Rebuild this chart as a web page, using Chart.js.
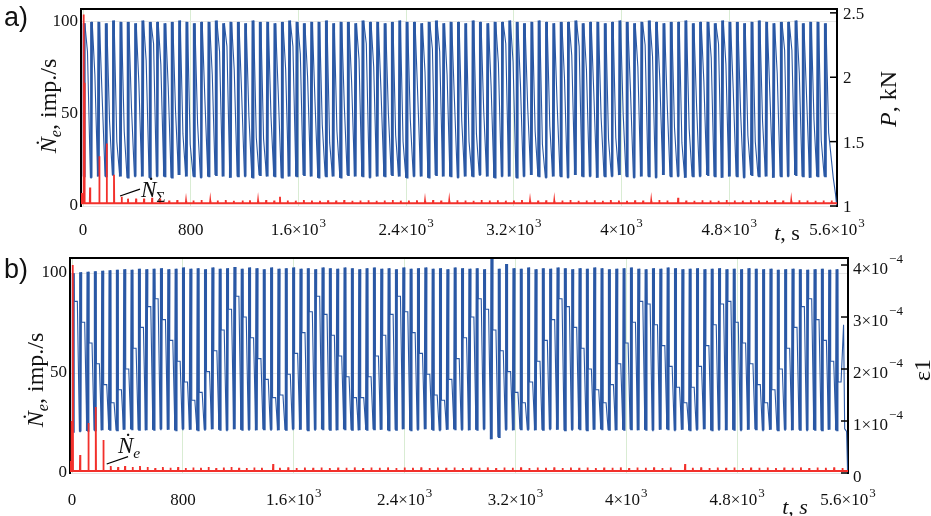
<!DOCTYPE html>
<html>
<head>
<meta charset="utf-8">
<script src="https://cdn.jsdelivr.net/npm/chart.js@4.4.1/dist/chart.umd.min.js"></script>
<style>
html, body { margin: 0; padding: 0; background: #fff; }
#wrap { position: relative; width: 931px; height: 516px; overflow: hidden; font-family: "Liberation Serif", "Times New Roman", serif; color: #111; }
canvas { position: absolute; left: 0; }
#cA { top: 0; }
#cB { top: 250px; }
.lbl { position: absolute; white-space: nowrap; line-height: 1; }
.panel { font-family: "Liberation Sans", Arial, sans-serif; font-size: 27px; }
.ttl { font-size: 24px; transform: translate(-50%, -50%) rotate(-90deg); }
.xt { font-size: 22px; transform: translate(-50%, -50%); }
.ann { font-size: 23px; }
sub { font-size: 0.68em; vertical-align: -0.3em; }
</style>
</head>
<body>
<div id="wrap">
  <canvas id="cA" width="931" height="250"></canvas>
  <canvas id="cB" width="931" height="266"></canvas>

  <div class="lbl panel" style="left:4px; top:4px;">a)</div>
  <div class="lbl panel" style="left:4px; top:256px;">b)</div>

  <div class="lbl ttl" style="left:50px; top:106px;"><i>Ṅ</i><sub><i>e</i></sub>, imp./s</div>
  <div class="lbl ttl" style="left:37px; top:380px;"><i>Ṅ</i><sub><i>e</i></sub>, imp./s</div>
  <div class="lbl ttl" style="left:888px; top:99px;"><i>P</i>, kN</div>
  <div class="lbl ttl" style="left:922px; top:370px;">ε1</div>

  <div class="lbl xt" style="left:787px; top:233px;"><i>t</i>, s</div>
  <div class="lbl xt" style="left:795px; top:507px;"><i>t, s</i></div>

  <div class="lbl ann" style="left:141px; top:178px;"><i>Ṅ</i><sub>Σ</sub></div>
  <div class="lbl ann" style="left:118px; top:434px;"><i>Ṅ</i><sub><i>e</i></sub></div>
</div>

<script>
// axes
const X_TICKS = [0, 800, 1600, 2400, 3200, 4000, 4800, 5600];
const X_TICK_BASE = ['0', '800', '1.6×10', '2.4×10', '3.2×10', '4×10', '4.8×10', '5.6×10'];
const X_TICK_SUP = ['', '', '3', '3', '3', '3', '3', '3'];
const NE_TICKS = [0, 50, 100];
const P_TICKS = [1, 1.5, 2, 2.5];
const P_TICK_BASE = ['1', '1.5', '2', '2.5'];
const P_TICK_SUP = ['', '', '', ''];
const EPS_TICKS = [0, 1, 2, 3, 4];          // in 10^-4
const EPS_TICK_BASE = ['0', '1×10', '2×10', '3×10', '4×10'];
const EPS_TICK_SUP = ['', '−4', '−4', '−4', '−4'];

// panel a) load P, kN - one entry per loading cycle
const cycleTA = [0,55,109,164,218,273,327,382,436,491,545,600,654,709,763,818,872,927,981,1036,
  1090,1145,1199,1254,1308,1363,1417,1472,1526,1581,1635,1690,1744,1799,1853,1908,1962,2017,2071,2126,
  2180,2235,2289,2344,2398,2453,2507,2562,2616,2671,2725,2780,2834,2889,2943,2998,3052,3107,3161,3216,
  3270,3325,3379,3434,3488,3543,3597,3652,3706,3761,3815,3870,3924,3979,4033,4088,4142,4197,4251,4306,
  4360,4415,4469,4524,4578,4633,4687,4742,4796,4851,4905,4960,5014,5069,5123,5178,5232,5287,5341,5396,
  5450,5505];
const peakA = [2.42,2.43,2.43,2.42,2.44,2.43,2.43,2.42,2.44,2.43,
  2.43,2.42,2.43,2.44,2.43,2.42,2.43,2.43,2.44,2.42,
  2.43,2.43,2.42,2.44,2.43,2.43,2.42,2.43,2.44,2.43,
  2.42,2.43,2.43,2.44,2.42,2.43,2.43,2.42,2.44,2.43,
  2.43,2.42,2.43,2.44,2.43,2.43,2.42,2.43,2.44,2.42,
  2.43,2.43,2.42,2.44,2.43,2.42,2.43,2.43,2.44,2.43,
  2.42,2.43,2.44,2.43,2.42,2.43,2.43,2.44,2.42,2.43,
  2.43,2.42,2.43,2.44,2.43,2.42,2.43,2.44,2.43,2.42,
  2.43,2.43,2.44,2.42,2.43,2.43,2.42,2.44,2.43,2.43,
  2.42,2.43,2.44,2.43,2.42,2.43,2.43,2.44,2.42,2.43,
  2.43,2.42];
const lowA = [1.23,1.22,1.23,1.23,1.24,1.23,1.22,1.23,1.23,1.22,
  1.23,1.23,1.22,1.24,1.23,1.23,1.22,1.23,1.24,1.23,
  1.22,1.23,1.23,1.22,1.24,1.23,1.23,1.22,1.23,1.23,
  1.24,1.23,1.22,1.23,1.23,1.22,1.24,1.23,1.23,1.22,
  1.23,1.23,1.24,1.23,1.22,1.23,1.23,1.22,1.24,1.23,
  1.23,1.22,1.23,1.23,1.24,1.23,1.22,1.23,1.23,1.22,
  1.23,1.24,1.23,1.22,1.23,1.23,1.22,1.24,1.23,1.23,
  1.22,1.23,1.23,1.24,1.23,1.22,1.23,1.23,1.22,1.24,
  1.23,1.23,1.22,1.23,1.23,1.24,1.23,1.22,1.23,1.23,
  1.22,1.24,1.23,1.23,1.22,1.23,1.23,1.24,1.23,1.22,
  1.23,1.23];
const midA = [2.20,2.02,1.85,1.66,1.50,1.58,1.76,1.95,2.13,2.26,
  2.10,1.92,1.74,1.56,1.48,1.64,1.83,2.02,2.20,2.24,
  2.06,1.88,1.70,1.53,1.52,1.70,1.88,2.06,2.24,2.18,
  2.00,1.81,1.63,1.49,1.58,1.77,1.96,2.14,2.26,2.08,
  1.90,1.72,1.55,1.50,1.67,1.86,2.04,2.22,2.20,2.02,
  1.84,1.66,1.50,1.56,1.74,1.93,2.11,2.26,2.12,1.94,
  1.76,1.58,1.48,1.62,1.80,1.99,2.17,2.24,2.06,1.87,
  1.69,1.52,1.53,1.71,1.90,2.08,2.25,2.16,1.98,1.79,
  1.61,1.49,1.60,1.78,1.97,2.15,2.26,2.10,1.91,1.73,
  1.55,1.50,1.66,1.85,2.03,2.21,2.21,2.03,1.85,1.67,
  1.51,1.57];
const tailTA = [5572, 5588, 5598];
const tailVA = [1.22, 1.10, 1.00];

// panel a) emission rate N_sum, imp/s
const baseA = 1.5;
const redTA = [-8,4,11,52,121,176,230,287,334,394,453,513,572,640,700,765,820,880,945,1000,
  1060,1120,1185,1240,1300,1360,1420,1463,1520,1580,1640,1700,1760,1820,1880,1940,2000,2060,2120,2180,
  2240,2300,2360,2420,2480,2540,2600,2660,2720,2780,2840,2900,2960,3020,3080,3140,3200,3260,3320,3380,
  3440,3500,3560,3620,3680,3740,3800,3860,3920,3980,4040,4100,4160,4220,4280,4340,4420,4480,4540,4600,
  4660,4720,4780,4840,4900,4960,5020,5080,5140,5200,5260,5320,5380,5440,5500,5560];
const redVA = [7,104,67,10,27,34,17,5,4,4,4,4.5,4,3,3.2,2.8,3,3.3,2.9,3,
  3.2,2.8,3,3.1,2.9,3.2,3,5,3,2.9,3.2,3,2.8,3.1,3,3.2,2.9,3,3.1,2.8,
  3,3.2,2.9,3,3.1,2.8,3.2,3,2.9,3.1,3,2.8,3.2,3,3.1,2.9,3,3.2,2.8,3,
  3.1,2.9,3,3.2,2.8,3,3.1,2.9,3.2,3,2.8,3.1,3,2.9,3.2,3,4.5,3,2.9,3.1,
  3,2.8,3.2,3,2.9,3.1,3,2.8,3.2,3,2.9,3.1,3,2.8,3,3];

// panel b) strain eps, 10^-4 - one entry per loading cycle
const cycleTB = [0,53,106,159,212,265,318,371,424,477,530,583,636,689,742,795,848,901,954,1007,
  1060,1113,1166,1219,1272,1325,1378,1431,1484,1537,1590,1643,1696,1749,1802,1855,1908,1961,2014,2067,
  2120,2173,2226,2279,2332,2385,2438,2491,2544,2597,2650,2703,2756,2809,2862,2915,2968,3021,3074,3127,
  3180,3233,3286,3339,3392,3445,3498,3551,3604,3657,3710,3763,3816,3869,3922,3975,4028,4081,4134,4187,
  4240,4293,4346,4399,4452,4505,4558,4611,4664,4717,4770,4823,4876,4929,4982,5035,5088,5141,5194,5247,
  5300,5353,5406,5459,5512];
const peakB = [3.84,3.86,3.87,3.88,3.89,3.90,3.91,3.92,3.91,3.93,
  3.92,3.93,3.94,3.92,3.93,3.95,3.93,3.94,3.92,3.95,
  3.93,3.94,3.96,3.93,3.95,3.94,3.92,3.95,3.93,3.94,
  3.95,3.93,3.94,3.92,3.95,3.94,3.93,3.95,3.94,3.92,
  3.94,3.95,3.93,3.94,3.92,3.95,3.93,3.94,3.95,3.93,
  3.94,3.92,3.95,3.94,3.93,3.94,3.92,4.25,3.93,4.02,
  3.94,3.93,3.95,3.92,3.94,3.93,3.95,3.94,3.92,3.94,
  3.93,3.95,3.94,3.92,3.93,3.94,3.95,3.93,3.92,3.94,
  3.93,3.95,3.94,3.92,3.93,3.94,3.92,3.93,3.94,3.92,
  3.93,3.92,3.94,3.93,3.92,3.93,3.91,3.92,3.93,3.92,
  3.91,3.92,3.93,3.91,3.92];
const lowB = [0.79,0.80,0.81,0.82,0.82,0.83,0.82,0.83,0.84,0.83,
  0.82,0.83,0.84,0.83,0.82,0.84,0.83,0.82,0.83,0.84,
  0.83,0.82,0.84,0.83,0.83,0.82,0.84,0.83,0.82,0.83,
  0.84,0.83,0.82,0.83,0.84,0.83,0.82,0.84,0.83,0.82,
  0.83,0.84,0.83,0.82,0.83,0.84,0.82,0.83,0.84,0.83,
  0.82,0.83,0.84,0.83,0.82,0.83,0.84,0.65,0.69,0.83,
  0.82,0.84,0.83,0.82,0.83,0.84,0.83,0.82,0.83,0.84,
  0.82,0.83,0.84,0.83,0.82,0.83,0.84,0.82,0.83,0.82,
  0.83,0.84,0.82,0.83,0.82,0.83,0.84,0.82,0.83,0.82,
  0.83,0.82,0.83,0.84,0.82,0.83,0.82,0.83,0.82,0.83,
  0.82,0.83,0.82,0.83,0.82];
const stepB = [3.30,2.90,2.50,2.10,1.70,1.35,1.60,2.00,2.40,2.80,
  3.20,3.35,2.95,2.55,2.15,1.75,1.40,1.55,1.95,2.35,
  2.75,3.15,3.40,3.00,2.60,2.20,1.80,1.45,1.50,1.90,
  2.30,2.70,3.10,3.40,3.05,2.65,2.25,1.85,1.45,1.45,
  1.85,2.25,2.65,3.05,3.40,3.10,2.70,2.30,1.90,1.50,
  1.40,1.80,2.20,2.60,3.00,3.35,3.15,2.75,2.35,1.95,
  1.55,1.35,1.75,2.15,2.55,2.95,3.35,3.20,2.80,2.40,
  2.00,1.60,1.35,1.70,2.10,2.50,2.90,3.30,3.25,2.85,
  2.45,2.05,1.65,1.35,1.65,2.05,2.45,2.85,3.25,3.30,
  2.90,2.50,2.10,1.70,1.35,1.60,2.00,2.40,2.80,3.20,
  3.35,2.95,2.55,2.15,1.75];
const tailTB = [5568, 5576, 5590, 5597];
const tailVB = [2.85, 0.85, 0.80, 0.00];

// panel b) emission rate N_e, imp/s
const baseB = 1.0;
const redTB = [-10,-4,5,58,118,171,226,279,332,382,437,490,545,600,655,710,765,820,875,930,
  985,1040,1095,1150,1205,1260,1315,1370,1451,1500,1560,1620,1680,1740,1800,1860,1920,1980,2040,2100,
  2160,2220,2280,2340,2400,2460,2520,2580,2640,2700,2760,2820,2880,2940,3000,3060,3120,3180,3240,3300,
  3360,3420,3480,3540,3600,3660,3720,3780,3840,3900,3960,4020,4080,4140,4200,4260,4320,4424,4480,4540,
  4600,4660,4720,4780,4840,4900,4960,5020,5080,5140,5200,5260,5320,5380,5440,5500,5560];
const redVB = [6,26,104,9,25,33,16.5,3.5,3,3.5,3,3.5,3,2.5,3,2.6,3,2.5,2.8,2.6,
  3,2.5,2.7,3,2.6,2.5,2.8,2.6,4.5,2.6,2.8,2.5,2.7,2.6,2.8,2.5,2.7,2.6,2.8,2.5,
  2.7,2.6,2.8,2.5,2.7,2.6,2.8,2.5,2.7,2.6,2.8,2.5,2.7,2.6,2.8,2.5,2.7,2.6,2.8,2.5,
  2.7,2.6,2.8,2.5,2.7,2.6,2.8,2.5,2.7,2.6,2.8,2.5,2.7,2.6,2.8,2.5,2.7,4.5,2.6,2.8,
  2.5,2.7,2.6,2.8,2.5,2.7,2.6,2.8,2.5,2.7,2.6,2.8,2.5,2.7,2.6,2.8,2.5];

// label leader lines [t1, v1, t2, v2] in data units
const leaderA = [275, 5.4, 423, 9.2];
const leaderB = [250, 4.5, 404, 8.2];

const BLUE = '#2a58a5';
const RED = '#f2302b';
const SERIF = '"Liberation Serif", "Times New Roman", serif';
const FONT = { family: SERIF, size: 17, lineHeight: 1 };

// one loading cycle: thick rise/fall bar, then a thin return through the mid level
function loadCurve(ts, lows, peaks, mids, step, tailT, tailV) {
  const pts = [];
  ts.forEach((t, i) => {
    pts.push({ x: t, y: lows[i] }, { x: t + 4, y: peaks[i] }, { x: t + 9, y: lows[i] }, { x: t + 13, y: peaks[i] });
    if (step) {
      pts.push({ x: t + 16, y: mids[i], g: 1 }, { x: t + 38, y: mids[i], g: 1 });
    } else {
      pts.push({ x: t + 33, y: mids[i], g: 1 });
    }
  });
  tailT.forEach((t, i) => pts.push({ x: t, y: tailV[i], g: 1 }));
  return pts;
}

function spikeCurve(ts, vs, base) {
  const pts = [{ x: -15, y: base }];
  ts.forEach((t, i) => {
    pts.push({ x: t - 2, y: base }, { x: t, y: vs[i] }, { x: t + 2, y: base });
  });
  pts.push({ x: 5600, y: base });
  return pts;
}

function drawSup(ctx, base, sup, x, y, align, rise) {
  ctx.font = '17px ' + SERIF;
  const wb = ctx.measureText(base).width;
  ctx.font = '13px ' + SERIF;
  const ws = sup ? ctx.measureText(sup).width + 1 : 0;
  const x0 = align === 'center' ? x - (wb + ws) / 2 : x;
  ctx.textAlign = 'left';
  ctx.textBaseline = 'alphabetic';
  ctx.font = '17px ' + SERIF;
  ctx.fillText(base, x0, y);
  if (sup) {
    ctx.font = '13px ' + SERIF;
    ctx.fillText(sup, x0 + wb + 1, y - rise);
  }
}

const framePlugin = {
  id: 'frame',
  afterDraw(chart, args, opts) {
    const { ctx, chartArea: a, scales } = chart;
    ctx.save();
    ctx.strokeStyle = '#000';
    ctx.lineWidth = 2;
    ctx.beginPath();
    ctx.moveTo(a.left - 1, a.top);
    ctx.lineTo(a.right + 1, a.top);
    ctx.stroke();
    ctx.lineWidth = 1.5;
    opts.rTicks.forEach(v => {
      const y = scales.yR.getPixelForValue(v);
      ctx.beginPath();
      ctx.moveTo(a.right - 7, y);
      ctx.lineTo(a.right, y);
      ctx.stroke();
    });
    const l = opts.leader;
    ctx.lineWidth = 1.2;
    ctx.beginPath();
    ctx.moveTo(scales.x.getPixelForValue(l[0]), scales.yL.getPixelForValue(l[1]));
    ctx.lineTo(scales.x.getPixelForValue(l[2]), scales.yL.getPixelForValue(l[3]));
    ctx.stroke();

    ctx.fillStyle = '#111';
    X_TICKS.forEach((v, i) => {
      drawSup(ctx, X_TICK_BASE[i], X_TICK_SUP[i], scales.x.getPixelForValue(v), a.bottom + opts.xBase, 'center', 8);
    });
    opts.rTicks.forEach((v, i) => {
      drawSup(ctx, opts.rBase[i], opts.rSup[i], a.right + opts.rPad, scales.yR.getPixelForValue(v) + opts.rDrop, 'left', 11);
    });
    ctx.restore();
  }
};

function makeChart(id, o) {
  const blue = o.blue;
  const thin = c => (blue[c.p0DataIndex].g || blue[c.p1DataIndex].g) ? 1.1 : 1.7;
  return new Chart(document.getElementById(id), {
    type: 'line',
    data: {
      datasets: [
        { data: o.red, yAxisID: 'yL', borderColor: RED, borderWidth: 1.8 },
        { data: blue, yAxisID: 'yR', borderColor: BLUE, borderWidth: 1.7, segment: { borderWidth: thin } }
      ]
    },
    options: {
      responsive: false,
      animation: false,
      devicePixelRatio: 1,
      parsing: false,
      elements: { point: { radius: 0 }, line: { tension: 0 } },
      layout: { padding: { top: o.top, left: 0, right: 0, bottom: 0 } },
      plugins: {
        legend: { display: false }, tooltip: { enabled: false },
        frame: { leader: o.leader, rTicks: o.rTicks, rBase: o.rBase, rSup: o.rSup, rPad: o.rPad, rDrop: o.rDrop, xBase: o.xBase }
      },
      scales: {
        x: {
          type: 'linear', min: -15, max: 5600,
          afterFit: s => { s.height = o.xH; s.paddingLeft = 0; s.paddingRight = 0; },
          afterBuildTicks: s => { s.ticks = X_TICKS.map(v => ({ value: v })); },
          ticks: { display: false },
          grid: { color: '#d9ecd3', lineWidth: 1, drawTicks: false },
          border: { display: false }
        },
        yL: {
          position: 'left', min: 0, max: o.neMax,
          afterFit: s => { s.width = o.leftW; s.paddingTop = 0; s.paddingBottom = 0; },
          afterBuildTicks: s => { s.ticks = NE_TICKS.map(v => ({ value: v })); },
          ticks: { font: FONT, color: '#111', padding: 3 },
          grid: { color: '#e6e6e6', drawTicks: false },
          border: { color: '#000', width: 2 }
        },
        yR: {
          position: 'right', min: o.rMin, max: o.rMax,
          afterFit: s => { s.width = o.rightW; s.paddingTop = 0; s.paddingBottom = 0; },
          afterBuildTicks: s => { s.ticks = o.rTicks.map(v => ({ value: v })); },
          ticks: { display: false },
          grid: { display: false, drawTicks: false },
          border: { color: '#000', width: 2 }
        }
      }
    },
    plugins: [framePlugin]
  });
}

makeChart('cA', {
  red: spikeCurve(redTA, redVA, baseA),
  blue: loadCurve(cycleTA, lowA, peakA, midA, false, tailTA, tailVA),
  top: 9, xH: 44, leftW: 81, rightW: 94, xBase: 29,
  neMax: 107, rMin: 1, rMax: 2.53,
  rTicks: P_TICKS, rBase: P_TICK_BASE, rSup: P_TICK_SUP, rPad: 6, rDrop: 6,
  leader: leaderA
});

makeChart('cB', {
  red: spikeCurve(redTB, redVB, baseB),
  blue: loadCurve(cycleTB, lowB, peakB, stepB, true, tailTB, tailVB),
  top: 8, xH: 43, leftW: 70, rightW: 83, xBase: 32,
  neMax: 107.5, rMin: 0, rMax: 4.135,
  rTicks: EPS_TICKS, rBase: EPS_TICK_BASE, rSup: EPS_TICK_SUP, rPad: 5, rDrop: 9,
  leader: leaderB
});
</script>
</body>
</html>
